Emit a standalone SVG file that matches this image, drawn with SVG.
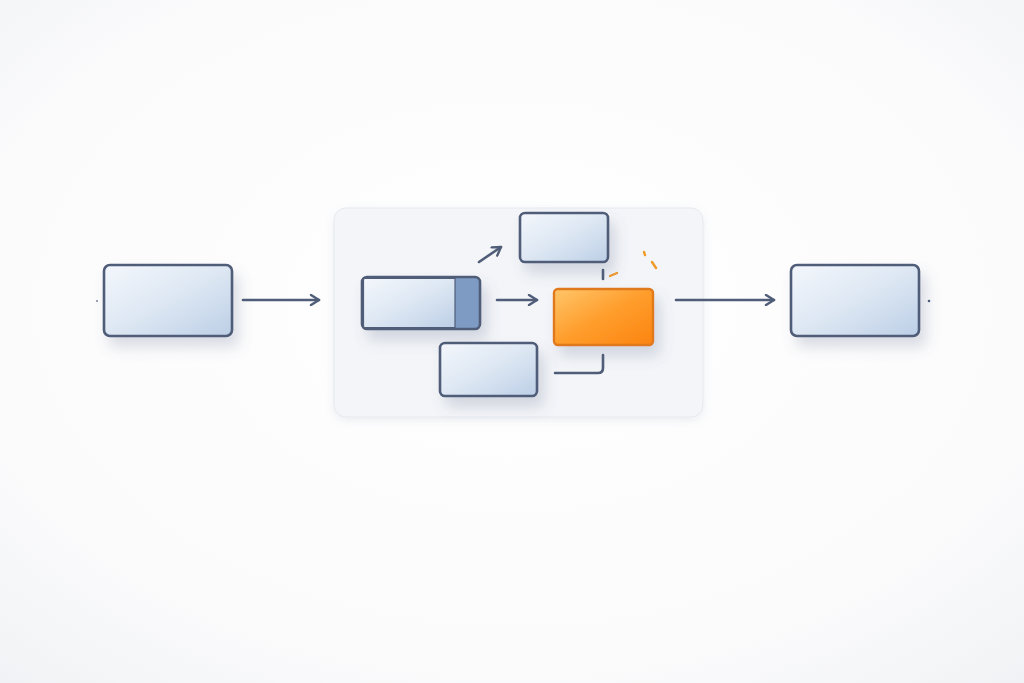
<svg xmlns="http://www.w3.org/2000/svg" width="1024" height="683" viewBox="0 0 1024 683">
<defs>
<radialGradient id="bg" cx="50%" cy="45%" r="75%">
<stop offset="0" stop-color="#ffffff"/>
<stop offset="0.7" stop-color="#fbfbfc"/>
<stop offset="1" stop-color="#f1f2f5"/>
</radialGradient>
<linearGradient id="blue" x1="0" y1="0" x2="1" y2="1">
<stop offset="0" stop-color="#f4f7fc"/>
<stop offset="0.5" stop-color="#dde7f3"/>
<stop offset="1" stop-color="#bccfe6"/>
</linearGradient>
<linearGradient id="orange" x1="0" y1="0" x2="1" y2="1">
<stop offset="0" stop-color="#ffc66a"/>
<stop offset="0.5" stop-color="#ff9d2c"/>
<stop offset="1" stop-color="#fb8410"/>
</linearGradient>
<filter id="sh" x="-30%" y="-30%" width="170%" height="190%">
<feDropShadow dx="6" dy="10" stdDeviation="7" flood-color="#5a6a88" flood-opacity="0.22"/>
</filter>
<filter id="shc" x="-10%" y="-10%" width="120%" height="130%">
<feDropShadow dx="0" dy="3" stdDeviation="4" flood-color="#8090a8" flood-opacity="0.15"/>
</filter>
<marker id="ah" viewBox="0 0 12 12" refX="10" refY="6" markerWidth="12" markerHeight="12" markerUnits="userSpaceOnUse" orient="auto">
<path d="M2,1 L10,6 L2,11" fill="none" stroke="#4f5d78" stroke-width="2.4" stroke-linecap="round" stroke-linejoin="round"/>
</marker>
<style>
.box{fill:url(#blue);stroke:#4f5d78;stroke-width:2.6}
.conn{fill:none;stroke:#4f5d78;stroke-width:2.6;stroke-linecap="round"}
.ln{fill:none;stroke:#4f5d78;stroke-width:2.6;stroke-linecap:round;stroke-linejoin:round}
.or{fill:none;stroke:#f09a2a;stroke-width:2.4;stroke-linecap:round}
</style>
</defs>
<rect width="1024" height="683" fill="url(#bg)"/>
<g id="container">
<rect x="334" y="208" width="369" height="209" rx="12" fill="#f3f5f8" stroke="#e6e9ee" stroke-width="1" filter="url(#shc)"/>
</g>
<g id="connectors">
<line class="ln" x1="243" y1="300" x2="319" y2="300" marker-end="url(#ah)"/>
<line class="ln" x1="479" y1="262" x2="501" y2="247" marker-end="url(#ah)"/>
<line class="ln" x1="497" y1="300" x2="537" y2="300" marker-end="url(#ah)"/>
<line class="ln" x1="676" y1="300" x2="774" y2="300" marker-end="url(#ah)"/>
<path class="ln" d="M555,373 L598,373 Q603,373 603,368 L603,355"/>
<line class="ln" x1="603" y1="270" x2="603" y2="279"/>
<line class="or" x1="610" y1="276" x2="617" y2="273" stroke="#e07a20"/>
<line class="or" x1="644" y1="252" x2="645" y2="255"/>
<line class="or" x1="652" y1="262" x2="656" y2="268"/>
</g>
<g id="node-left">
<rect class="box" x="104" y="265" width="128" height="71" rx="6" filter="url(#sh)"/>
</g>
<g id="node-top">
<rect class="box" x="520" y="213" width="88" height="49" rx="5" filter="url(#sh)"/>
</g>
<g id="node-mid">
<rect x="362" y="277" width="118" height="52" rx="5" fill="#7e9bc3" stroke="#4f5d78" stroke-width="2.6" filter="url(#sh)"/>
<path d="M365,278.5 L455,278.5 L455,327.5 L365,327.5 Q363.5,327.5 363.5,326 L363.5,280 Q363.5,278.5 365,278.5 Z" fill="url(#blue)" stroke="#4f5d78" stroke-width="1.2"/>
</g>
<g id="node-bottom">
<rect class="box" x="440" y="343" width="97" height="53" rx="5" filter="url(#sh)"/>
</g>
<g id="node-orange">
<rect x="554" y="289" width="99" height="56" rx="4" fill="url(#orange)" stroke="#e0791a" stroke-width="2.4" filter="url(#sh)"/>
</g>
<g id="node-right">
<rect class="box" x="791" y="265" width="128" height="71" rx="6" filter="url(#sh)"/>
</g>
<circle cx="97" cy="301" r="0.9" fill="#6a7690"/>
<circle cx="929" cy="301" r="1.3" fill="#4f5d78"/>
</svg>
